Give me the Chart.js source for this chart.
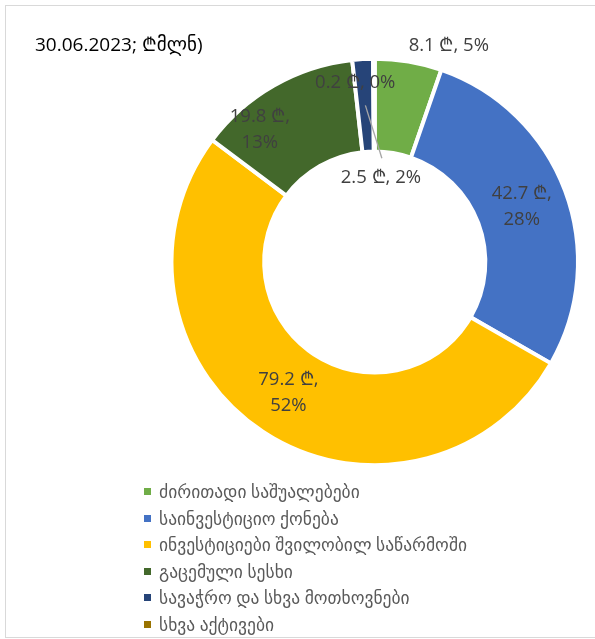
<!DOCTYPE html>
<html><head><meta charset="utf-8">
<script src="https://cdn.jsdelivr.net/npm/chart.js@4"></script>
<style>
html,body{margin:0;padding:0;background:#fff;}
#wrap{position:relative;width:595px;height:639px;overflow:hidden;background:#fff;}
#frame{position:absolute;left:5px;top:5px;width:620px;height:633px;border:1px solid #d9d9d9;box-sizing:border-box;}
#title{position:absolute;left:35px;top:32px;font-family:"Open Sans","DejaVu Sans",sans-serif;font-size:19px;line-height:24px;color:#000;white-space:nowrap;}
#chart{position:absolute;left:0;top:0;}
#legend{position:absolute;left:143px;top:478px;font-family:"Open Sans","DejaVu Sans",sans-serif;font-size:17.5px;color:#595959;}
.li{height:26.6px;line-height:26.6px;white-space:nowrap;position:relative;padding-left:16px;}
.li i{position:absolute;left:1px;top:10px;width:7px;height:7px;}
</style></head>
<body>
<div id="wrap">
  <div id="frame"></div>
  <canvas id="chart" width="595" height="639"></canvas>
  <div id="title"></div>
  <div id="legend"></div>
</div>
<script>
const titleText = "30.06.2023; ₾მლნ)";
const categories = [
  "ძირითადი საშუალებები",
  "საინვესტიციო ქონება",
  "ინვესტიციები შვილობილ საწარმოში",
  "გაცემული სესხი",
  "სავაჭრო და სხვა მოთხოვნები",
  "სხვა აქტივები"
];
const values = [8.1, 42.7, 79.2, 19.8, 2.5, 0.2];
const colors = ["#70AD47", "#4472C4", "#FFC000", "#43682B", "#264478", "#997300"];

// label placement relative to each slice (angle offset from slice middle in degrees, radius in px)
const labelPlacement = [
  {dAngle: 9.3, r: 229, wrap: false},
  {wrap: true},
  {wrap: true},
  {dAngle: -11.3, r: 175, wrap: true},
  {dAngle: 7.6, r: 84, wrap: false, leader: true},
  {dAngle: -6.0, r: 180, wrap: false}
];

document.getElementById('title').textContent = titleText;
const lg = document.getElementById('legend');
categories.forEach((c, i) => {
  const d = document.createElement('div'); d.className = 'li';
  const m = document.createElement('i'); m.style.background = colors[i];
  d.appendChild(m); d.appendChild(document.createTextNode(c));
  lg.appendChild(d);
});

const LABEL_FONT = '18.5px "Open Sans", "DejaVu Sans", sans-serif';
const sliceLabels = {
  id: 'sliceLabels',
  afterDatasetsDraw(chart) {
    const ctx = chart.ctx;
    const meta = chart.getDatasetMeta(0);
    const ds = chart.data.datasets[0].data;
    const total = ds.reduce((a, b) => a + b, 0);
    ctx.save();
    ctx.font = LABEL_FONT;
    ctx.fillStyle = '#404040';
    ctx.textAlign = 'center';
    ctx.textBaseline = 'middle';
    meta.data.forEach((arc, i) => {
      const p = labelPlacement[i] || {};
      const mid = (arc.startAngle + arc.endAngle) / 2;
      const midR = (arc.innerRadius + arc.outerRadius) / 2;
      const ang = mid + (p.dAngle || 0) * Math.PI / 180;
      const r = p.r !== undefined ? p.r : midR;
      const x = arc.x + Math.cos(ang) * r;
      const y = arc.y + Math.sin(ang) * r;
      const pct = Math.round(ds[i] / total * 100);
      const v = ds[i].toFixed(1) + ' ₾,';
      if (p.leader) {
        ctx.save();
        ctx.strokeStyle = '#a6a6a6';
        ctx.lineWidth = 1.3;
        ctx.beginPath();
        ctx.moveTo(arc.x + Math.cos(mid) * midR, arc.y + Math.sin(mid) * midR);
        ctx.lineTo(x + 1, y - 20);
        ctx.stroke();
        ctx.restore();
      }
      if (p.wrap) {
        ctx.fillText(v, x, y - 13);
        ctx.fillText(pct + '%', x, y + 13);
      } else {
        ctx.fillText(v + ' ' + pct + '%', x, y);
      }
    });
    ctx.restore();
  }
};

new Chart(document.getElementById('chart'), {
  type: 'doughnut',
  data: {
    labels: categories,
    datasets: [{
      data: values,
      backgroundColor: colors,
      borderColor: '#ffffff',
      borderWidth: 4,
      radius: 203.25,
      cutout: '54.4%'
    }]
  },
  options: {
    responsive: false,
    animation: false,
    events: [],
    layout: {padding: {left: 172, right: 17.5, top: 59, bottom: 174}},
    plugins: {legend: {display: false}, tooltip: {enabled: false}, title: {display: false}}
  },
  plugins: [sliceLabels]
});
</script>
</body></html>
